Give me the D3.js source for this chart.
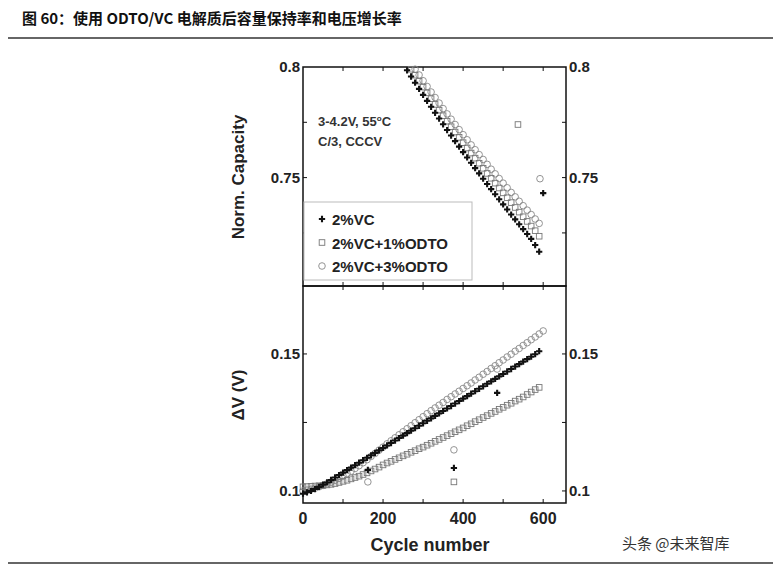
<!DOCTYPE html>
<html><head><meta charset="utf-8">
<script src="https://cdn.jsdelivr.net/npm/d3@7"></script>
<style>body{margin:0;background:#fff}text{font-family:"Liberation Sans",Arial,sans-serif}</style>
</head><body><svg id="c" width="781" height="568"></svg>
<script>
const title = "图 60：使用 ODTO/VC 电解质后容量保持率和电压增长率";
const seriesNames = ["2%VC", "2%VC+1%ODTO", "2%VC+3%ODTO"];
const xTicks = [0, 200, 400, 600];
const capTicks = [0.75, 0.8];
const dvTicks = [0.1, 0.15];
// top panel: normalized capacity
const capVCstart = 260, capVC = [.7985,.7957,.7929,.7901,.7874,.7847,.7820,.7793,.7767,.7741,.7715,.7690,.7665,.7640,.7615,.7591,.7567,.7543,.7519,.7495,.7471,.7448,.7425,.7402,.7379,.7356,.7333,.7311,.7289,.7267,.7245,.7223,.7195,.7165];
const capO1start = 270, capO1 = [.7990,.7963,.7936,.7909,.7883,.7857,.7831,.7805,.7780,.7755,.7730,.7706,.7682,.7658,.7634,.7611,.7588,.7565,.7542,.7519,.7497,.7475,.7453,.7431,.7409,.7387,.7365,.7344,.7323,.7302,.7281,.7260,.7235];
const capO3start = 280, capO3 = [.7990,.7964,.7938,.7912,.7887,.7862,.7837,.7812,.7788,.7764,.7740,.7717,.7694,.7671,.7648,.7626,.7604,.7582,.7560,.7538,.7517,.7496,.7475,.7454,.7433,.7413,.7393,.7373,.7353,.7333,.7313,.7293];
const capOutliers = [[600,0.743,0],[537,0.774,1],[592,0.7495,2]];
// bottom panel: delta V, cycles 0..590 step 10
const dvVC = [.0990,.0995,.1000,.1007,.1015,.1023,.1031,.1040,.1049,.1058,.1067,.1076,.1085,.1094,.1103,.1112,.1121,.1130,.1139,.1148,.1157,.1166,.1175,.1184,.1193,.1202,.1211,.1220,.1229,.1238,.1247,.1256,.1265,.1274,.1283,.1292,.1301,.1310,.1319,.1328,.1337,.1346,.1355,.1364,.1373,.1382,.1391,.1400,.1409,.1418,.1427,.1436,.1445,.1454,.1463,.1472,.1481,.1490,.1499,.1510];
const dvO1 = [.1015,.1016,.1017,.1018,.1019,.1020,.1022,.1024,.1027,.1031,.1035,.1039,.1044,.1049,.1054,.1060,.1066,.1073,.1080,.1087,.1095,.1102,.1108,.1115,.1121,.1128,.1134,.1141,.1147,.1154,.1160,.1167,.1174,.1181,.1188,.1195,.1202,.1209,.1216,.1223,.1230,.1238,.1245,.1253,.1260,.1268,.1275,.1283,.1290,.1298,.1305,.1313,.1320,.1328,.1335,.1343,.1352,.1361,.1370,.1378];
const dvO3 = [.1000,.1003,.1006,.1010,.1015,.1020,.1026,.1032,.1039,.1046,.1054,.1063,.1072,.1082,.1092,.1103,.1114,.1126,.1137,.1149,.1160,.1172,.1183,.1194,.1205,.1216,.1227,.1238,.1249,.1260,.1271,.1282,.1293,.1303,.1313,.1323,.1334,.1344,.1354,.1364,.1374,.1384,.1394,.1405,.1415,.1426,.1436,.1447,.1457,.1468,.1478,.1489,.1499,.1510,.1520,.1531,.1541,.1552,.1562,.1573,.1584];
const dvOutliers = [[162,0.1077,0],[377,0.1084,0],[485,0.1358,0],[377,0.1033,1],[162,0.1033,2],[377,0.115,2],[485,0.1445,2]];

const svg = d3.select("#c");
svg.append("text").attr("x",22).attr("y",24).attr("font-size",15).attr("font-weight","bold").attr("fill","#111")
  .style("font-family","'Noto Sans CJK SC',sans-serif").text(title);
svg.append("line").attr("x1",8).attr("x2",773).attr("y1",38).attr("y2",38).attr("stroke","#333").attr("stroke-width",1.5);
svg.append("line").attr("x1",8).attr("x2",773).attr("y1",563).attr("y2",563).attr("stroke","#333").attr("stroke-width",1.5);
svg.append("text").attr("x",622).attr("y",549).attr("font-size",15).attr("fill","#333")
  .style("font-family","'Noto Sans CJK SC',sans-serif").text("头条 @未来智库");

const L=303, R=566;
const x = d3.scaleLinear().domain([0,657]).range([L,R]);
const yTop = d3.scaleLinear().domain([0.701,0.8]).range([286,67]);
const yBot = d3.scaleLinear().domain([0.0956,0.1748]).range([503,286]);
const colors = ["#111","#777","#888"];

function marker(g, t, px, py){
  if(t===0){ g.append("path").attr("d",d3.symbol(d3.symbolCross,22)()).attr("transform",`translate(${px},${py})`).attr("fill",colors[0]); }
  else if(t===1){ g.append("rect").attr("x",px-2.8).attr("y",py-2.8).attr("width",5.6).attr("height",5.6).attr("fill","none").attr("stroke",colors[1]).attr("stroke-width",0.9); }
  else { g.append("circle").attr("cx",px).attr("cy",py).attr("r",3.3).attr("fill","none").attr("stroke",colors[2]).attr("stroke-width",0.9); }
}

function panel(y, ticks, minor, fmt){
  const g = svg.append("g");
  const [y0,y1] = y.range();
  g.append("rect").attr("x",L).attr("y",y1).attr("width",R-L).attr("height",y0-y1).attr("fill","none").attr("stroke","#111").attr("stroke-width",1.5);
  d3.range(0,700,100).forEach(v=>{ if(x(v)>L+1 && x(v)<R-1){
    g.append("line").attr("x1",x(v)).attr("x2",x(v)).attr("y1",y0).attr("y2",y0-4).attr("stroke","#111");
    g.append("line").attr("x1",x(v)).attr("x2",x(v)).attr("y1",y1).attr("y2",y1+4).attr("stroke","#111");}});
  minor.forEach(v=>{ [[L,4],[R,-4]].forEach(([xx,d])=>g.append("line").attr("x1",xx).attr("x2",xx+d).attr("y1",y(v)).attr("y2",y(v)).attr("stroke","#111"));});
  ticks.forEach(v=>{
    g.append("text").attr("x",L-3).attr("y",y(v)+5).attr("text-anchor","end").attr("font-size",15).attr("font-weight","bold").attr("fill","#222").text(fmt(v));
    g.append("text").attr("x",R+3).attr("y",y(v)+5).attr("font-size",15).attr("font-weight","bold").attr("fill","#222").text(fmt(v));
  });
  return g;
}
const fmt = v=>String(v);
const gt = panel(yTop, capTicks, [0.725,0.75,0.775], fmt);
const gb = panel(yBot, dvTicks, [0.1,0.125,0.15], fmt);

[[capO3,capO3start,2],[capO1,capO1start,1],[capVC,capVCstart,0]].forEach(([arr,s,t])=>
  arr.forEach((v,i)=>marker(gt,t,x(s+i*10),yTop(v))));
capOutliers.forEach(([c,v,t])=>marker(gt,t,x(c),yTop(v)));
[[dvO3,2],[dvO1,1],[dvVC,0]].forEach(([arr,t])=>arr.forEach((v,i)=>marker(gb,t,x(i*10),yBot(v))));
dvOutliers.forEach(([c,v,t])=>marker(gb,t,x(c),yBot(v)));

xTicks.forEach(v=>svg.append("text").attr("x",x(v)).attr("y",524).attr("text-anchor","middle").attr("font-size",16).attr("font-weight","bold").attr("fill","#222").text(v));
svg.append("text").attr("x",430).attr("y",551).attr("text-anchor","middle").attr("font-size",18).attr("font-weight","bold").attr("fill","#222").text("Cycle number");
svg.append("text").attr("transform","translate(244,177) rotate(-90)").attr("text-anchor","middle").attr("font-size",17).attr("font-weight","bold").attr("fill","#222").text("Norm. Capacity");
svg.append("text").attr("transform","translate(244,395) rotate(-90)").attr("text-anchor","middle").attr("font-size",17).attr("font-weight","bold").attr("fill","#222").text("ΔV (V)");

const ann = svg.append("text").attr("x",318).attr("y",126).attr("font-size",13).attr("font-weight","bold").attr("fill","#333");
ann.append("tspan").text("3-4.2V, 55");
ann.append("tspan").attr("font-size",8).attr("dy",-5).text("o");
ann.append("tspan").attr("dy",5).text("C");
svg.append("text").attr("x",318).attr("y",146).attr("font-size",13).attr("font-weight","bold").attr("fill","#333").text("C/3, CCCV");

svg.append("rect").attr("x",304).attr("y",202).attr("width",168).attr("height",78).attr("fill","#fff").attr("stroke","#bbb");
seriesNames.forEach((n,i)=>{
  const yy = 220+i*23.5;
  marker(svg,i,322,yy-1);
  svg.append("text").attr("x",332).attr("y",yy+5).attr("font-size",15).attr("font-weight","bold").attr("fill","#222").text(n);
});
</script></body></html>
